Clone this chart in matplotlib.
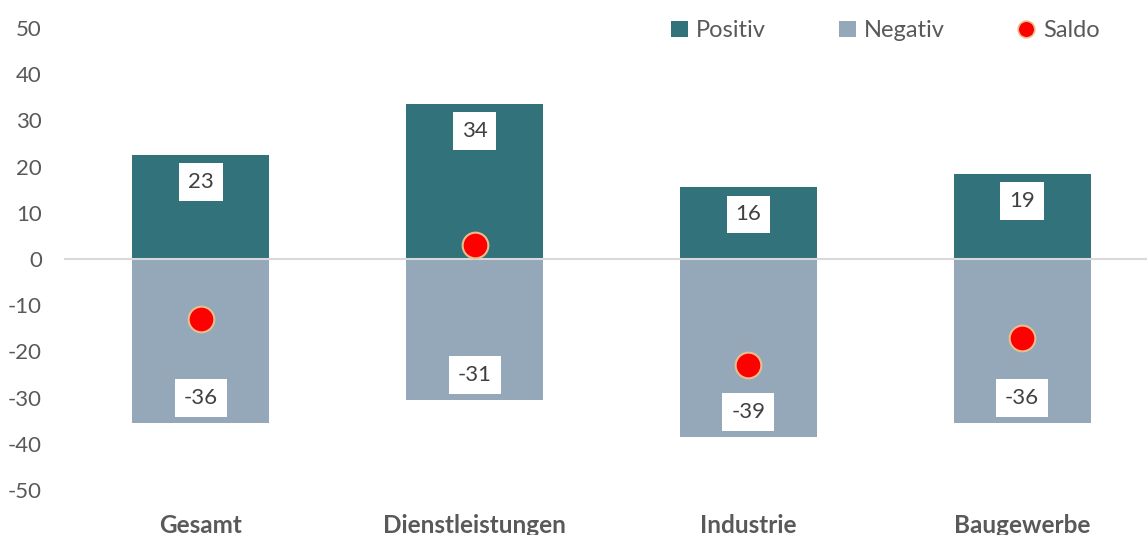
import numpy as np
import matplotlib
matplotlib.use("Agg")
import matplotlib.pyplot as plt
from matplotlib.patches import Patch
from matplotlib.lines import Line2D

categories = ["Gesamt", "Dienstleistungen", "Industrie", "Baugewerbe"]
positiv = [22.5, 33.5, 15.5, 18.5]
negativ = [-35.5, -30.5, -38.5, -35.5]
saldo = [-13, 3, -23, -17]
yticks = [-50, -40, -30, -20, -10, 0, 10, 20, 30, 40, 50]

C_POS = "#31727B"
C_NEG = "#94A8BA"
C_RED = "#FF0000"
C_EDGE = "#E8BE8E"
C_TXT = "#595959"

plt.rcParams['font.family'] = ['Lato', 'DejaVu Sans']

fig = plt.figure(figsize=(11.47, 5.35), dpi=100)
ax = fig.add_axes([64/1147, 1 - 490/535, 1 - 64/1147, (490 - 28)/535])

x = np.arange(len(categories))
ax.bar(x, positiv, width=0.5, color=C_POS, zorder=2)
ax.bar(x, negativ, width=0.5, color=C_NEG, zorder=2)
ax.axhline(0, color="#D9D9D9", lw=1.5, zorder=3)
ax.plot(x, saldo, linestyle="none", marker="o", markersize=18.5,
        markerfacecolor=C_RED, markeredgecolor=C_EDGE, markeredgewidth=1.5, zorder=5)

def rnd(v):
    return int(np.sign(v) * np.floor(abs(v) + 0.5))

box = dict(boxstyle="square,pad=0.4", fc="white", ec="none")
for xi, p, n in zip(x, positiv, negativ):
    ax.annotate(f"{rnd(p)}", (xi, p), xytext=(0, -19.5), textcoords="offset points",
                ha="center", va="center", fontsize=16, color="#404040", bbox=box, zorder=6)
    ax.annotate(f"{rnd(n)}", (xi, n), xytext=(0, 18), textcoords="offset points",
                ha="center", va="center", fontsize=16, color="#404040", bbox=box, zorder=6)

ax.set_ylim(-50, 50)
ax.set_xlim(-0.5, 3.5 - 12/273.5)
ax.set_yticks(yticks)
ax.set_yticklabels([str(t) for t in yticks], fontsize=16, color=C_TXT)
ax.set_xticks(x)
ax.set_xticklabels(categories, fontsize=17.5, color=C_TXT, fontweight="bold")
ax.tick_params(axis="y", length=0, pad=16)
ax.tick_params(axis="x", length=0, pad=17)
for s in ax.spines.values():
    s.set_visible(False)

handles = [Patch(facecolor=C_POS, label="Positiv"),
           Patch(facecolor=C_NEG, label="Negativ"),
           Line2D([], [], linestyle="none", marker="o", markersize=12,
                  markerfacecolor=C_RED, markeredgecolor=C_EDGE, markeredgewidth=1.2, label="Saldo")]
leg = fig.legend(handles=handles, ncol=3, loc="upper left", bbox_to_anchor=(650/1147, 1.002),
                 frameon=False, fontsize=17, handlelength=0.7, handleheight=0.7,
                 handletextpad=0.35, columnspacing=3.1)
for t in leg.get_texts():
    t.set_color(C_TXT)

fig.savefig("out.png", dpi=100)
